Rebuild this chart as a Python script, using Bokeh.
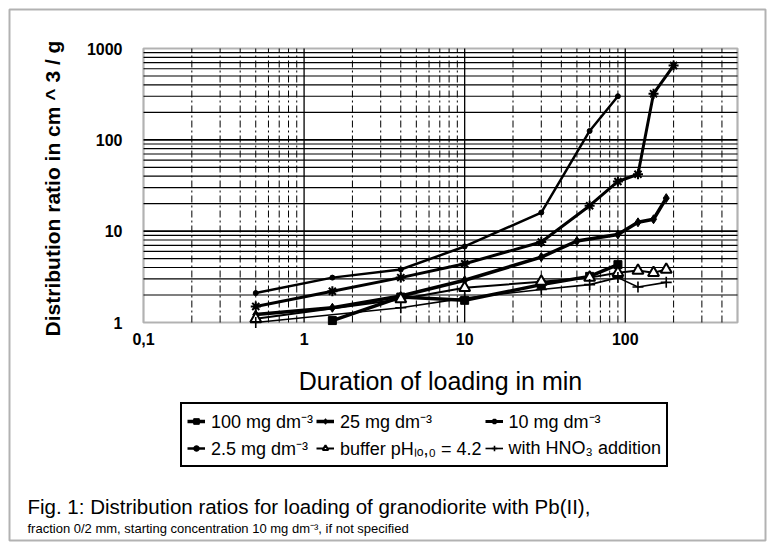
import math
from bokeh.plotting import figure
from bokeh.models import (Legend, LegendItem, Range1d, LogScale, Label, BoxAnnotation)
from bokeh.embed import file_html
from bokeh.resources import INLINE

# ---- data ----
t_2_5 = [0.5, 1.5, 4, 10, 30, 60, 90]
kd_2_5 = [2.1, 3.1, 3.8, 6.8, 16, 125, 300]

t_10 = [0.5, 1.5, 4, 10, 30, 60, 90, 120, 150, 200]
kd_10 = [1.5, 2.2, 3.1, 4.4, 7.6, 19, 35, 42, 320, 650]

t_25 = [0.5, 1.5, 4, 10, 30, 50, 90, 120, 150, 180]
kd_25 = [1.22, 1.45, 1.95, 2.9, 5.2, 7.8, 9.2, 12.5, 13.5, 23]

t_100 = [1.5, 4, 10, 30, 60, 90]
kd_100 = [1.05, 1.9, 1.75, 2.6, 3.2, 4.3]

t_buf = [0.5, 4, 10, 30, 60, 90, 120, 150, 180]
kd_buf = [1.1, 1.8, 2.4, 2.8, 3.1, 3.5, 3.7, 3.5, 3.8]

t_hno3 = [0.5, 4, 10, 30, 60, 90, 120, 180]
kd_hno3 = [1.0, 1.45, 1.85, 2.3, 2.6, 3.1, 2.45, 2.75]

x_ticks = [0.1, 1, 10, 100]
x_tick_labels = ["0,1", "1", "10", "100"]
y_ticks = [1, 10, 100, 1000]
y_tick_labels = ["1", "10", "100", "1000"]
X_MIN, X_MAX = 0.1, 500
Y_MIN, Y_MAX = 1, 1000

FONT = "'Liberation Sans', Arial, sans-serif"
W, H = 772, 549
# plot area (pixels of the page) that the log axes occupy
PL, PR, PT, PB = 143, 737, 48, 322

# extend the log ranges so that X_MIN..X_MAX / Y_MIN..Y_MAX land on the plot area
lx0, lx1 = math.log10(X_MIN), math.log10(X_MAX)
dx = (lx1 - lx0) / (PR - PL)
ly0, ly1 = math.log10(Y_MIN), math.log10(Y_MAX)
dy = (ly1 - ly0) / (PB - PT)
t_range = Range1d(10 ** (lx0 - PL * dx), 10 ** (lx1 + (W - PR) * dx))
kd_range = Range1d(10 ** (ly0 - (H - PB) * dy), 10 ** (ly1 + PT * dy))

p = figure(width=W, height=H, x_range=Range1d(0, W), y_range=Range1d(H, 0),
           output_backend="svg", toolbar_location=None,
           x_axis_location=None, y_axis_location=None,
           min_border=0, min_border_left=0, min_border_right=0,
           min_border_top=0, min_border_bottom=0)
p.extra_x_ranges = {"t": t_range}
p.extra_x_scales = {"t": LogScale()}
p.extra_y_ranges = {"kd": kd_range}
p.extra_y_scales = {"kd": LogScale()}
p.grid.visible = False
p.outline_line_color = None
p.background_fill_color = "white"
p.border_fill_color = "white"

LOG = dict(x_range_name="t", y_range_name="kd")

# ---- grid (from the tick lists) ----
x_minor = [m * 10 ** e for e in range(-1, 3) for m in range(2, 10) if m * 10 ** e < X_MAX]
y_minor = [m * 10 ** e for e in range(0, 3) for m in range(2, 10)]
p.segment(x0=x_minor, y0=[Y_MIN] * len(x_minor), x1=x_minor, y1=[Y_MAX] * len(x_minor),
          line_color="black", line_width=1, line_dash="7 3 2 3", **LOG)
p.segment(x0=x_ticks[1:], y0=[Y_MIN] * 3, x1=x_ticks[1:], y1=[Y_MAX] * 3,
          line_color="black", line_width=1.3, **LOG)
p.segment(x0=[X_MIN] * len(y_minor), y0=y_minor, x1=[X_MAX] * len(y_minor), y1=y_minor,
          line_color="black", line_width=1.2, **LOG)
p.segment(x0=[X_MIN] * 2, y0=y_ticks[1:3], x1=[X_MAX] * 2, y1=y_ticks[1:3],
          line_color="black", line_width=1.8, **LOG)

# plot-area frame
p.add_layout(BoxAnnotation(left=X_MIN, right=X_MAX, bottom=Y_MIN, top=Y_MAX,
                           fill_alpha=0, line_color="black", line_width=2.2,
                           level="overlay", **LOG))

# tick labels
p.text(x=x_ticks, y=[Y_MIN] * len(x_ticks), text=x_tick_labels, y_offset=16,
       text_align="center", text_baseline="middle", text_font_size="16px",
       text_font_style="bold", text_color="black", text_font={"value": FONT}, **LOG)
p.text(x=[X_MIN] * len(y_ticks), y=y_ticks, text=y_tick_labels, x_offset=-21,
       text_align="right", text_baseline="middle", text_font_size="16px",
       text_font_style="bold", text_color="black", text_font={"value": FONT}, **LOG)

# ---- series ----
l100 = p.line(t_100, kd_100, line_color="black", line_width=3.5, **LOG)
s100 = p.scatter(t_100, kd_100, marker="square", size=8, color="black", **LOG)
l25 = p.line(t_25, kd_25, line_color="black", line_width=3.5, **LOG)
s25 = p.scatter(t_25, kd_25, marker="diamond", size=9, color="black", **LOG)
l10 = p.line(t_10, kd_10, line_color="black", line_width=3, **LOG)
s10 = p.scatter(t_10, kd_10, marker="asterisk", size=10, line_color="black",
                line_width=2, **LOG)
l2 = p.line(t_2_5, kd_2_5, line_color="black", line_width=2.5, **LOG)
s2 = p.scatter(t_2_5, kd_2_5, marker="circle", size=5, color="black", **LOG)
lb = p.line(t_buf, kd_buf, line_color="black", line_width=2, **LOG)
sb = p.scatter(t_buf, kd_buf, marker="triangle", size=11, line_color="black",
               fill_color="white", line_width=2, **LOG)
lh = p.line(t_hno3, kd_hno3, line_color="black", line_width=1.6, **LOG)
sh = p.scatter(t_hno3, kd_hno3, marker="cross", size=11, line_color="black",
               line_width=1.6, **LOG)

# ---- legend (column-major order: 3 columns x 2 rows) ----
legend = Legend(items=[
    LegendItem(label="100 mg dm⁻³", renderers=[l100, s100]),
    LegendItem(label="2.5 mg dm⁻³", renderers=[l2, s2]),
    LegendItem(label="25 mg dm⁻³", renderers=[l25, s25]),
    LegendItem(label="buffer pHₗₒ,₀ = 4.2", renderers=[lb, sb]),
    LegendItem(label="10 mg dm⁻³", renderers=[l10, s10]),
    LegendItem(label="with HNO₃ addition", renderers=[lh, sh]),
], ncols=3, location=(180, H - 467))
legend.border_line_color = "black"
legend.border_line_alpha = 1
legend.border_line_width = 2
legend.background_fill_color = "white"
legend.background_fill_alpha = 1
legend.label_text_font = FONT
legend.label_text_font_size = "18px"
legend.label_text_color = "black"
legend.glyph_width = 18
legend.glyph_height = 14
legend.label_standoff = 6
legend.spacing = 3
legend.padding = 5
legend.margin = 0
p.add_layout(legend, "center")

# ---- texts ----
p.add_layout(Label(x=52, y=188, angle=math.pi / 2,
                   text="Distribution ratio in cm ^ 3 / g", text_align="center",
                   text_baseline="middle", text_font=FONT, text_font_style="bold",
                   text_font_size="21px", text_color="black"))
p.add_layout(Label(x=440, y=380, text="Duration of loading in min", text_align="center",
                   text_baseline="middle", text_font=FONT, text_font_size="25px",
                   text_color="black"))
p.add_layout(Label(x=27, y=506,
                   text="Fig. 1: Distribution ratios for loading of granodiorite with Pb(II),",
                   text_align="left", text_baseline="middle", text_font=FONT,
                   text_font_size="20.5px", text_color="black"))
p.add_layout(Label(x=27, y=528,
                   text="fraction 0/2 mm, starting  concentration 10 mg dm⁻³, if not specified",
                   text_align="left", text_baseline="middle", text_font=FONT,
                   text_font_size="13px", text_color="black"))

# outer frame
p.add_layout(BoxAnnotation(left=9, right=765, top=9, bottom=540, fill_alpha=0,
                           line_color="black", line_width=2))

open("out.html", "w").write(file_html(p, INLINE))
